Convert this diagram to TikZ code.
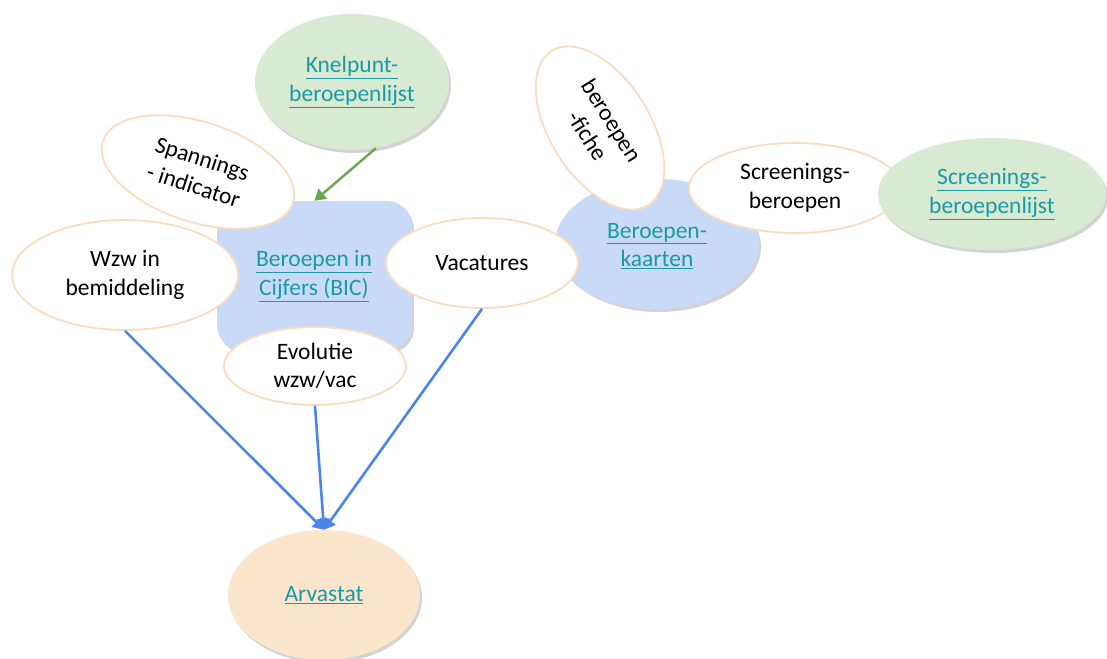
\documentclass[tikz,border=0pt]{standalone}
\usepackage{fontspec}
\setmainfont{Carlito}
\usetikzlibrary{shapes.geometric,shadows,arrows.meta}
\definecolor{grfill}{HTML}{D9EAD3}
\definecolor{blfill}{HTML}{C9DAF8}
\definecolor{orfill}{HTML}{FCE5CD}
\definecolor{edge}{HTML}{F9DDBE}
\definecolor{linkc}{HTML}{1A9AA6}
\definecolor{blline}{HTML}{4A86E8}
\definecolor{grline}{HTML}{6AA84F}
\newcommand{\lnk}[1]{\textcolor{linkc}{\underline{#1}}}
\tikzset{
  txt/.style={font=\fontsize{23.5}{28.5}\selectfont, align=center, text=black},
  bubble/.style={ellipse, draw=edge, line width=1.8pt, fill=white, inner sep=0pt, txt},
  colell/.style={ellipse, inner sep=0pt, txt, drop shadow={opacity=0.35, shadow xshift=2pt, shadow yshift=-3pt}},
  bicbox/.style={rectangle, rounded corners=25pt, fill=blfill, inner sep=0pt, txt, drop shadow={opacity=0.35, shadow xshift=2pt, shadow yshift=-3pt}},
  blarrow/.style={draw=blline, line width=2.6pt, -{Triangle[length=11pt,width=13pt]}},
  grarrow/.style={draw=grline, line width=2.4pt, -{Triangle[length=11pt,width=13pt]}}
}
\begin{document}
\begin{tikzpicture}[x=1pt,y=-1pt]
\useasboundingbox (0,0) rectangle (1107,658);
% colored main shapes
\node[colell, fill=grfill, minimum width=194pt, minimum height=136pt] (kn) at (352,82) {\lnk{Knelpunt-}\\\lnk{beroepenlijst}};
\node[bicbox, minimum width=195pt, minimum height=149pt] (bic) at (314.5,275.5) {};
\node[colell, fill=blfill, minimum width=204pt, minimum height=130pt] (bk) at (657,244) {};
\node[colell, fill=orfill, minimum width=192pt, minimum height=130pt] (arv) at (324,595) {\lnk{Arvastat}};
% BIC text
\node[txt] (bict) at (314,276) {\lnk{Beroepen in}\\\lnk{Cijfers (BIC)}};
% bubbles
\node[bubble, rotate=-18, minimum width=200pt, minimum height=100pt] (sp) at (198,172) {Spannings\\- indicator};
\node[bubble, minimum width=226pt, minimum height=110pt] (wzw) at (125,275) {Wzw in\\bemiddeling};
\node[bubble, minimum width=192pt, minimum height=90pt] (vac) at (482,263) {Vacatures};
\node[bubble, minimum width=182pt, minimum height=78pt] (evo) at (315,366) {Evolutie\\wzw/vac};
\node[txt] (bkt) at (657,246) {\lnk{Beroepen-}\\\lnk{kaarten}};
\node[bubble, rotate=-58, minimum width=182pt, minimum height=100pt] (bf) at (600,128) {beroepen\\-fiche};
\node[bubble, minimum width=212pt, minimum height=90pt] (sb) at (795,188) {Screenings-\\beroepen};
\node[colell, fill=grfill, minimum width=228pt, minimum height=112pt] (sl) at (992,194) {\lnk{Screenings-}\\\lnk{beroepenlijst}};
% connectors
\draw[grarrow] (kn.-70) -- (bic.north);
\draw[blarrow] (wzw.south) -- (arv.north);
\draw[blarrow] (evo.south) -- (arv.north);
\draw[blarrow] (vac.south) -- (arv.north);
\end{tikzpicture}
\end{document}
